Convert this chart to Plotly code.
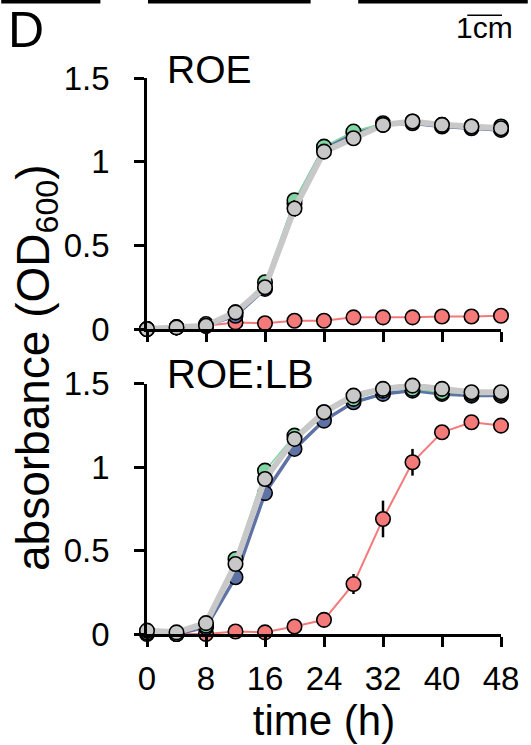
import plotly.graph_objects as go
from plotly.subplots import make_subplots

time_h = [0, 4, 8, 12, 16, 20, 24, 28, 32, 36, 40, 44, 48]
x_ticks = [0, 8, 16, 24, 32, 40, 48]
y_ticks = [0, 0.5, 1, 1.5]
y_tick_text = ["0", "0.5", "1", "1.5"]

# Panel ROE
roe_gray = [0.00, 0.01, 0.02, 0.10, 0.25, 0.72, 1.06, 1.14, 1.22, 1.24, 1.22, 1.21, 1.20]
roe_blue = [0.00, 0.01, 0.02, 0.08, 0.24, 0.75, 1.08, 1.17, 1.22, 1.23, 1.21, 1.20, 1.19]
roe_green = [0.00, 0.01, 0.03, 0.10, 0.28, 0.77, 1.09, 1.18, 1.23, 1.24, 1.22, 1.21, 1.21]
roe_red = [0.00, 0.01, 0.02, 0.04, 0.035, 0.05, 0.05, 0.07, 0.07, 0.07, 0.075, 0.075, 0.08]
roe_err = [0, 0, 0, 0.01, 0.02, 0.05, 0.02, 0.02, 0.01, 0.01, 0.01, 0.01, 0.01]

# Panel ROE:LB
lb_gray = [0.02, 0.01, 0.065, 0.42, 0.93, 1.17, 1.33, 1.43, 1.47, 1.49, 1.47, 1.45, 1.45]
lb_blue = [0.01, 0.00, 0.04, 0.34, 0.845, 1.11, 1.28, 1.39, 1.44, 1.46, 1.44, 1.43, 1.43]
lb_green = [0.01, 0.00, 0.05, 0.45, 0.98, 1.19, 1.33, 1.41, 1.46, 1.47, 1.45, 1.44, 1.44]
lb_red = [0.0, 0.0, 0.0, 0.015, 0.01, 0.045, 0.085, 0.30, 0.69, 1.03, 1.21, 1.27, 1.25]
lb_red_err = [0, 0, 0, 0, 0, 0, 0.01, 0.06, 0.11, 0.08, 0.02, 0.02, 0.02]

FONT = "Arial, Liberation Sans, sans-serif"
COL = {"red": "#f47a7a", "blue": "#5f72a5", "green": "#7fd6a2", "gray": "#c8c8c8"}
LW = {"red": 2, "blue": 3.5, "green": 1.5, "gray": 6}

fig = make_subplots(rows=2, cols=1, shared_xaxes=False, vertical_spacing=0.0)


def add_series(y, name, row, err=None):
    fig.add_trace(go.Scatter(
        x=time_h, y=y, mode="lines+markers", name=name,
        line=dict(color=COL[name], width=LW[name]),
        marker=dict(size=14.5, color=COL[name], line=dict(color="black", width=1.6)),
        error_y=dict(type="data", array=err, visible=err is not None,
                     color="black", thickness=2.5, width=0),
        cliponaxis=False, showlegend=False,
    ), row=row, col=1)


add_series(roe_red, "red", 1)
add_series(roe_blue, "blue", 1)
add_series(roe_green, "green", 1)
add_series(roe_gray, "gray", 1, roe_err)

add_series(lb_red, "red", 2, lb_red_err)
add_series(lb_blue, "blue", 2)
add_series(lb_green, "green", 2)
add_series(lb_gray, "gray", 2)

axis_common = dict(showline=True, linecolor="black", linewidth=2.5, ticks="outside",
                   ticklen=10, tickwidth=2.5, tickcolor="black", showgrid=False,
                   zeroline=False, tickfont=dict(family=FONT, size=33, color="black"))

for r in (1, 2):
    fig.update_xaxes(range=[0, 48], tickvals=x_ticks, showticklabels=(r == 2),
                     ticklabelstandoff=4, row=r, col=1, **axis_common)
    fig.update_yaxes(range=[0, 1.5], tickvals=y_ticks, ticktext=y_tick_text,
                     ticklabelstandoff=18, row=r, col=1, **axis_common)

fig.update_layout(
    width=531, height=745,
    margin=dict(l=147, r=27, t=78, b=109),
    plot_bgcolor="white", paper_bgcolor="white",
    yaxis=dict(domain=[0.5484, 1.0]),
    yaxis2=dict(domain=[0.0, 0.4498]),
    xaxis=dict(anchor="y"),
    xaxis2=dict(anchor="y2", title=dict(text="time (h)", font=dict(family=FONT, size=42, color="black"), standoff=6)),
)

ann_font = dict(family=FONT, color="black")
fig.add_annotation(text="ROE", xref="paper", yref="paper", x=0.05, y=1.015,
                   xanchor="left", yanchor="middle", showarrow=False, font=dict(size=39, **ann_font))
fig.add_annotation(text="ROE:LB", xref="paper", yref="paper", x=0.05, y=0.468,
                   xanchor="left", yanchor="middle", showarrow=False, font=dict(size=40, **ann_font))
fig.add_annotation(text="absorbance (OD<sub>600</sub>)", xref="paper", yref="paper",
                   x=-0.314, y=0.48, xanchor="center", yanchor="middle", textangle=-90,
                   showarrow=False, font=dict(size=46, **ann_font))
fig.add_annotation(text="D", xref="paper", yref="paper", x=-0.398, y=1.086,
                   xanchor="left", yanchor="middle", showarrow=False, font=dict(size=50, **ann_font))
fig.add_annotation(text="1cm", xref="paper", yref="paper", x=1.04, y=1.09,
                   xanchor="right", yanchor="middle", showarrow=False, font=dict(size=30, **ann_font))

# decorative top bars and scale overline
for x0, x1 in [(0, 100), (148, 312), (360, 531)]:
    fig.add_shape(type="line", xref="paper", yref="paper",
                  x0=(x0 - 147) / 357, x1=(x1 - 147) / 357,
                  y0=(745 - 1.5 - 109) / 558, y1=(745 - 1.5 - 109) / 558,
                  line=dict(color="black", width=3.5))
fig.add_shape(type="line", xref="paper", yref="paper",
              x0=(470 - 147) / 357, x1=(505 - 147) / 357,
              y0=(745 - 15 - 109) / 558, y1=(745 - 15 - 109) / 558,
              line=dict(color="black", width=1.5))

fig.write_html("out.html")
